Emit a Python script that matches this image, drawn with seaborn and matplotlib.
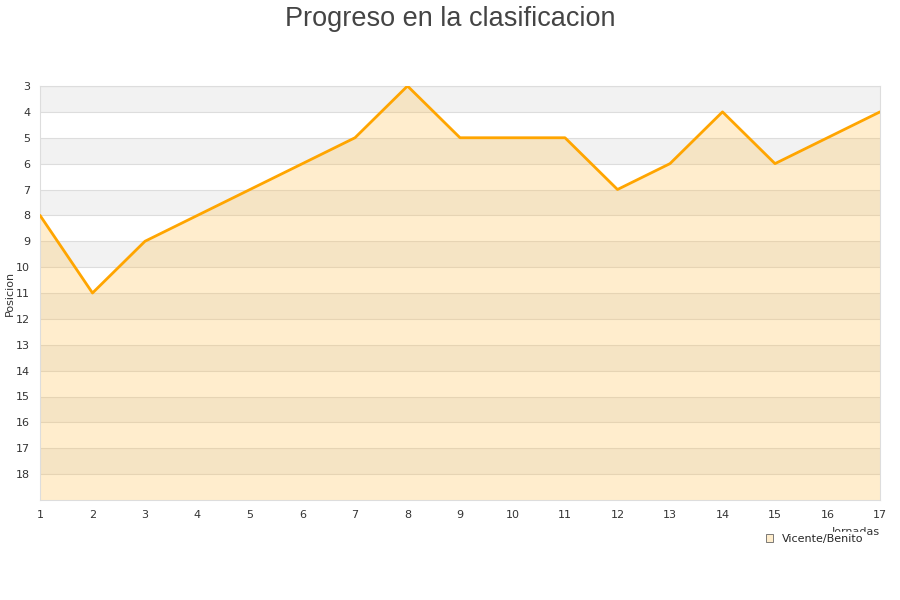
import numpy as np
import pandas as pd
import seaborn as sns
import matplotlib.pyplot as plt

# data
jornadas = list(range(1, 18))
posicion = [8, 11, 9, 8, 7, 6, 5, 3, 5, 5, 5, 7, 6, 4, 6, 5, 4]
equipo = "Vicente/Benito"

df = pd.DataFrame({"Jornada": jornadas, "Posicion": posicion})

sns.set_style("white")
fig = plt.figure(figsize=(9, 6), dpi=100)
ax = fig.add_axes([40 / 900, 100 / 600, 840 / 900, 414 / 600])

# alternating horizontal bands
for y in range(3, 19):
    if (y - 3) % 2 == 0:
        ax.axhspan(y, y + 1, color="#f2f2f2", zorder=0, lw=0)
    ax.axhline(y, color="#dddddd", lw=0.8, zorder=0.5)

# area under the line (toward the bottom of the inverted axis)
ax.fill_between(df["Jornada"], df["Posicion"], 19, color="#ffc04d", alpha=0.28,
                lw=0, zorder=1)
sns.lineplot(data=df, x="Jornada", y="Posicion", ax=ax, color="#ffa500", lw=2,
             zorder=3, legend=False)

ax.set_xlim(1, 17)
ax.set_ylim(19, 3)
ax.set_xticks(jornadas)
ax.set_yticks(range(3, 19))
ax.tick_params(labelsize=8, colors="#333333", length=0, pad=7)
ax.set_ylabel("Posicion", fontsize=8, color="#333333")
ax.yaxis.set_label_coords(-0.03, 0.5)
ax.set_xlabel("Jornadas", fontsize=8, color="#333333", ha="right")
ax.xaxis.set_label_coords(1.0, -0.065)
for s in ax.spines.values():
    s.set_color("#dddddd")
    s.set_linewidth(0.8)

leg_h = plt.Rectangle((0, 0), 1, 1, facecolor="#ffedcc", edgecolor="#666666", lw=0.6)
leg = ax.legend([leg_h], [equipo], loc="upper right", bbox_to_anchor=(0.99, -0.063),
                frameon=True, fontsize=8, handlelength=0.7, handleheight=0.7,
                borderpad=0.2, framealpha=1, edgecolor="white")
leg.set_zorder(10)

fig.suptitle("Progreso en la clasificacion", fontsize=19.5, color="#444444",
             family="Liberation Sans", y=0.99)

fig.savefig("out.png", dpi=100)
